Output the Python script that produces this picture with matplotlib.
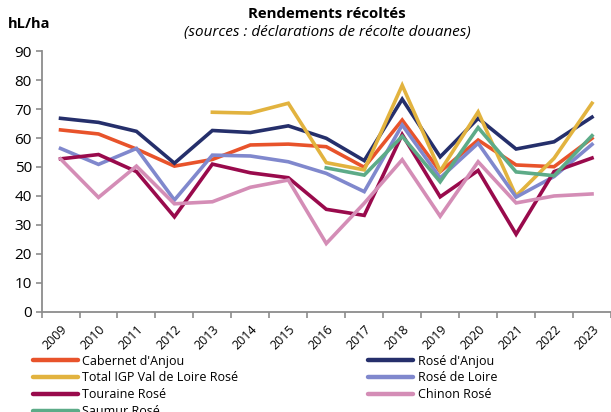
import matplotlib
matplotlib.use("Agg")
import matplotlib.pyplot as plt
from matplotlib.lines import Line2D

plt.rcParams["font.family"] = ["Open Sans", "DejaVu Sans"]

# --- data (hL/ha), None = no value that year ---
years = [str(y) for y in range(2009, 2024)]

cabernet_anjou = [62.8, 61.4, 56.2, 50.3, 52.6, 57.6, 57.9, 57.0, 49.9, 66.2, 48.4, 59.3, 50.7, 50.1, 59.9]
rose_anjou = [66.8, 65.4, 62.3, 51.3, 62.6, 61.9, 64.2, 59.9, 52.2, 73.4, 53.5, 66.8, 56.2, 58.7, 67.2]
total_igp = [None, None, None, None, 68.9, 68.6, 72.0, 51.5, 49.0, 78.2, 48.6, 69.0, 40.0, 53.0, 72.0]
rose_loire = [56.4, 50.9, 56.4, 38.6, 54.1, 53.8, 51.8, 47.8, 41.5, 64.5, 46.2, 58.2, 39.6, 46.7, 57.8]
touraine = [52.8, 54.3, 48.4, 32.8, 51.0, 48.0, 46.3, 35.4, 33.3, 61.2, 39.7, 48.8, 26.8, 48.4, 53.1]
chinon = [52.8, 39.5, 50.3, 37.3, 38.0, 43.0, 45.5, 23.6, 37.5, 52.5, 33.0, 51.8, 37.6, 40.0, 40.7]
saumur = [None, None, None, None, None, None, None, 49.7, 47.2, 60.6, 44.9, 63.6, 48.3, 47.0, 60.8]

series = [
    ("Cabernet d'Anjou", cabernet_anjou, "#E8532B"),
    ("Rosé d'Anjou", rose_anjou, "#252F6B"),
    ("Total IGP Val de Loire Rosé", total_igp, "#E2B33F"),
    ("Rosé de Loire", rose_loire, "#8088CD"),
    ("Touraine Rosé", touraine, "#990A4C"),
    ("Chinon Rosé", chinon, "#D48DB6"),
    ("Saumur Rosé", saumur, "#5DAB88"),
]

fig = plt.figure(figsize=(6.11, 4.12), dpi=100)
ax = fig.add_axes([0.068, 0.243, 0.932, 0.633])

x = list(range(len(years)))
handles = {}
for name, vals, col in series:
    xs = [i for i, v in zip(x, vals) if v is not None]
    ys = [v for v in vals if v is not None]
    ax.plot(xs, ys, color=col, lw=2.6, solid_joinstyle="miter")
    handles[name] = Line2D([], [], color=col, lw=3.2, solid_capstyle="round")

ax.set_ylim(0, 90)
ax.set_xlim(-0.5, len(years) - 0.5)
ax.set_yticks(range(0, 91, 10))
ax.set_xticks(x)
ax.set_xticklabels(years, rotation=45, ha="right", rotation_mode="anchor", fontsize=9)
ax.set_xticks([i - 0.5 for i in range(len(years) + 1)], minor=True)
ax.tick_params(axis="x", which="major", length=0, pad=8)
ax.tick_params(axis="x", which="minor", length=4, width=1.2, color="#8c8c8c")
ax.tick_params(axis="y", length=4, width=1.2, color="#8c8c8c", labelsize=11, pad=3)

for side in ("top", "right"):
    ax.spines[side].set_visible(False)
for side in ("left", "bottom"):
    ax.spines[side].set_color("#8c8c8c")
    ax.spines[side].set_linewidth(1.3)

fig.text(0.535, 0.965, "Rendements récoltés", ha="center", va="center",
         fontsize=10.8, fontweight="bold")
fig.text(0.535, 0.922, "(sources : déclarations de récolte douanes)", ha="center",
         va="center", fontsize=11, style="italic")
fig.text(0.013, 0.942, "hL/ha", ha="left", va="center", fontsize=10.5, fontweight="bold")

col1 = ["Cabernet d'Anjou", "Total IGP Val de Loire Rosé", "Touraine Rosé", "Saumur Rosé"]
col2 = ["Rosé d'Anjou", "Rosé de Loire", "Chinon Rosé"]
for names, xa in ((col1, 0.054), (col2, 0.603)):
    fig.legend([handles[n] for n in names], names, loc="upper left",
               bbox_to_anchor=(xa, 0.139), frameon=False, fontsize=9,
               handlelength=3.6, handletextpad=0.35, labelspacing=0.3,
               borderpad=0, borderaxespad=0)

fig.savefig("out.png", dpi=100)
